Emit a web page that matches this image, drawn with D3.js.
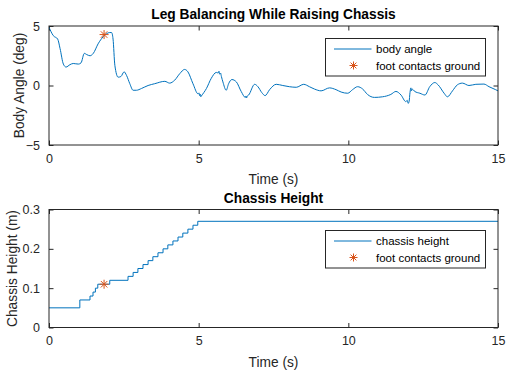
<!DOCTYPE html>
<html>
<head>
<meta charset="utf-8">
<script src="https://cdn.jsdelivr.net/npm/d3@7"></script>
<style>
  body { margin: 0; background: #fff; }
  svg { display: block; font-family: 'Liberation Sans', Arial, sans-serif; }
</style>
</head>
<body>
<figure id="chart" style="margin:0"></figure>
<script>
// body angle (deg) vs time (s)
const angleTime = [0, 0.14, 0.29, 0.37, 0.48, 0.57, 0.7, 0.81, 0.98, 1.07, 1.18, 1.26, 1.37, 1.48, 1.64, 1.81, 1.92, 2.03, 2.09, 2.14, 2.2, 2.31, 2.4, 2.51, 2.59, 2.7, 2.81, 2.92, 3.09, 3.31, 3.53, 3.87, 4.03, 4.2, 4.37, 4.53, 4.64, 4.81, 4.98, 5.01, 5.03, 5.05, 5.07, 5.09, 5.26, 5.42, 5.59, 5.65, 5.68, 5.7, 5.73, 5.76, 5.81, 5.92, 6.0, 6.11, 6.26, 6.42, 6.56, 6.58, 6.6, 6.62, 6.67, 6.87, 6.98, 7.11, 7.22, 7.37, 7.59, 7.81, 8.03, 8.26, 8.51, 8.7, 8.87, 9.09, 9.37, 9.59, 9.76, 9.98, 10.14, 10.31, 10.48, 10.64, 10.87, 11.14, 11.42, 11.59, 11.76, 11.92, 11.97, 12.0, 12.03, 12.06, 12.09, 12.11, 12.13, 12.22, 12.39, 12.56, 12.72, 12.89, 13.0, 13.2, 13.31, 13.48, 13.64, 13.81, 14.03, 14.26, 14.53, 14.7, 14.92, 15];
const angleDeg = [4.9, 4.2, 3.9, 3.1, 1.8, 1.55, 1.75, 1.85, 1.8, 1.9, 2.7, 2.6, 2.5, 2.7, 3.5, 4.1, 4.35, 4.45, 4.45, 3.9, 1.7, 0.7, 0.75, 1.15, 0.85, 0.15, -0.4, -0.4, -0.25, 0.0, 0.15, 0.35, 0.2, 0.45, 1.0, 1.35, 1.15, 0.15, -0.7, -0.62, -0.85, -0.72, -0.95, -0.88, -0.25, 0.6, 1.1, 1.05, 1.2, 0.95, 1.05, 0.75, 0.3, -0.4, 0.15, 0.5, 0.3, -0.5, -1.0, -0.88, -1.05, -0.9, -0.8, 0.1, -0.1, -0.6, -0.85, -0.35, 0.1, 0.0, -0.1, -0.15, 0.1, -0.1, -0.3, -0.45, -0.2, -0.35, -0.55, -0.65, -0.35, -0.1, -0.3, -0.75, -1.0, -0.95, -0.75, -0.5, -0.8, -1.35, -1.25, -1.5, -1.35, -0.6, -0.2, -0.45, -0.3, -0.5, -0.65, -0.8, -0.1, 0.25, 0.05, -0.65, -0.95, -0.45, 0.05, 0.2, 0.0, 0.1, 0.12, -0.1, -0.35, -0.45];

// chassis height (m), stepped: value holds from each time until the next
const heightTime = [0, 1.03, 1.37, 1.47, 1.55, 1.63, 2.03, 2.64, 2.81, 2.97, 3.14, 3.31, 3.47, 3.64, 3.81, 3.97, 4.14, 4.31, 4.47, 4.64, 4.81, 4.97, 15];
const heightM = [0.05, 0.07, 0.08, 0.09, 0.10, 0.11, 0.12, 0.13, 0.14, 0.15, 0.16, 0.17, 0.18, 0.19, 0.20, 0.21, 0.22, 0.23, 0.24, 0.25, 0.26, 0.27, 0.27];

// foot contact event
const contactTime = 1.84;
const contactAngle = 4.28;
const contactHeight = 0.11;

const xTicks = [0, 5, 10, 15];
const angleTicks = [-5, 0, 5];
const heightTicks = [0, 0.1, 0.2, 0.3];

const width = 506;
const height = 372;
const lineColor = '#0072BD';
const starColor = '#D95319';
const axisColor = '#262626';

const svg = d3.select('figure#chart')
  .append('svg')
  .attr('width', width)
  .attr('height', height);

svg.append('rect').attr('width', width).attr('height', height).attr('fill', '#fff');

function drawStar(g, cx, cy, r) {
  const s = g.append('g').attr('transform', `translate(${cx},${cy})`)
    .attr('stroke', starColor).attr('stroke-width', 1);
  s.append('line').attr('x1', -r).attr('x2', r).attr('y1', 0).attr('y2', 0);
  s.append('line').attr('x1', 0).attr('x2', 0).attr('y1', -r).attr('y2', r);
  const d = r * 0.72;
  s.append('line').attr('x1', -d).attr('x2', d).attr('y1', -d).attr('y2', d);
  s.append('line').attr('x1', -d).attr('x2', d).attr('y1', d).attr('y2', -d);
}

function panel(opts) {
  const { left, right, top, bottom, yDomain, yTicks, yFormat, title, ylabel, data, curve, star, legend } = opts;
  const x = d3.scaleLinear().domain([0, 15]).range([left, right]);
  const y = d3.scaleLinear().domain(yDomain).range([bottom, top]);
  const g = svg.append('g');
  const tick = 4.5;

  // axes with inward ticks on all four sides
  g.append('g').attr('transform', `translate(0,${bottom})`)
    .call(d3.axisBottom(x).tickValues(xTicks).tickSizeInner(-tick).tickSizeOuter(0).tickPadding(9).tickFormat(d3.format('d')))
    .call(a => a.select('.domain').remove());
  g.append('g').attr('transform', `translate(0,${top})`)
    .call(d3.axisTop(x).tickValues(xTicks).tickSizeInner(-tick).tickSizeOuter(0).tickFormat(''))
    .call(a => a.select('.domain').remove());
  g.append('g').attr('transform', `translate(${left},0)`)
    .call(d3.axisLeft(y).tickValues(yTicks).tickSizeInner(-tick).tickSizeOuter(0).tickPadding(9).tickFormat(yFormat))
    .call(a => a.select('.domain').remove());
  g.append('g').attr('transform', `translate(${right},0)`)
    .call(d3.axisRight(y).tickValues(yTicks).tickSizeInner(-tick).tickSizeOuter(0).tickFormat(''))
    .call(a => a.select('.domain').remove());
  g.selectAll('.tick line').attr('stroke', axisColor);
  g.selectAll('.tick text').attr('fill', axisColor).attr('font-size', 12.5).attr('font-family', 'Liberation Sans, Arial, sans-serif');

  const clipId = 'clip' + Math.round(top);
  svg.append('clipPath').attr('id', clipId)
    .append('rect').attr('x', left).attr('y', top - 1).attr('width', right - left).attr('height', bottom - top + 2);

  g.append('path')
    .datum(data)
    .attr('clip-path', `url(#${clipId})`)
    .attr('fill', 'none')
    .attr('stroke', lineColor)
    .attr('stroke-width', 1)
    .attr('stroke-linejoin', 'round')
    .attr('d', d3.line().x(d => x(d[0])).y(d => y(d[1])).curve(curve));

  drawStar(g, x(star[0]), y(star[1]), 4.5);

  g.append('rect')
    .attr('x', left).attr('y', top).attr('width', right - left).attr('height', bottom - top)
    .attr('fill', 'none').attr('stroke', axisColor).attr('stroke-width', 1);

  g.append('text')
    .attr('x', (left + right) / 2).attr('y', top - 7)
    .attr('text-anchor', 'middle').attr('font-weight', 'bold').attr('font-size', 13.75)
    .attr('fill', '#000')
    .text(title);

  g.append('text')
    .attr('x', (left + right) / 2).attr('y', bottom + 39)
    .attr('text-anchor', 'middle').attr('font-size', 13.75).attr('fill', axisColor)
    .text('Time (s)');

  g.append('text')
    .attr('transform', `translate(${opts.ylabelX},${(top + bottom) / 2}) rotate(-90)`)
    .attr('text-anchor', 'middle').attr('font-size', 13.75).attr('fill', axisColor)
    .text(ylabel);

  // legend
  const lg = g.append('g');
  lg.append('rect')
    .attr('x', legend.x).attr('y', legend.y).attr('width', 160).attr('height', 37.5)
    .attr('fill', '#fff').attr('stroke', axisColor).attr('stroke-width', 1);
  const row1 = legend.y + 10.5;
  const row2 = legend.y + 27;
  lg.append('line').attr('x1', legend.x + 8.5).attr('x2', legend.x + 46)
    .attr('y1', row1).attr('y2', row1).attr('stroke', lineColor).attr('stroke-width', 1);
  drawStar(lg, legend.x + 28, row2, 4);
  lg.selectAll('text.lbl')
    .data([[legend.label, row1], ['foot contacts ground', row2]])
    .join('text')
    .attr('class', 'lbl')
    .attr('x', legend.x + 50.5).attr('y', d => d[1])
    .attr('dy', '0.35em').attr('font-size', 11.5).attr('fill', '#000')
    .text(d => d[0]);
}

panel({
  left: 49, right: 498, top: 26, bottom: 145,
  yDomain: [-5, 5], yTicks: angleTicks, yFormat: d3.format('d'),
  title: 'Leg Balancing While Raising Chassis',
  ylabel: 'Body Angle (deg)', ylabelX: 24,
  data: angleTime.map((t, i) => [t, angleDeg[i]]),
  curve: d3.curveMonotoneX,
  star: [contactTime, contactAngle],
  legend: { x: 325.5, y: 38.5, label: 'body angle' }
});

panel({
  left: 49, right: 498, top: 209.5, bottom: 327.5,
  yDomain: [0, 0.3], yTicks: heightTicks, yFormat: d => d === 0 ? '0' : d3.format('.1f')(d),
  title: 'Chassis Height',
  ylabel: 'Chassis Height (m)', ylabelX: 17,
  data: heightTime.map((t, i) => [t, heightM[i]]),
  curve: d3.curveStepAfter,
  star: [contactTime, contactHeight],
  legend: { x: 325.5, y: 230.5, label: 'chassis height' }
});
</script>
</body>
</html>
